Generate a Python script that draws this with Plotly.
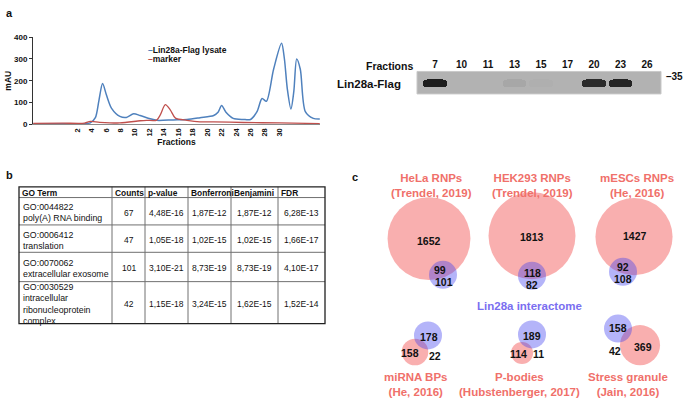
import math
import plotly.graph_objects as go

W, H = 685, 401
FONT = "Arial, Liberation Sans, sans-serif"

# ---------------- Panel a : chromatogram ----------------
series_names = ["Lin28a-Flag lysate", "marker"]
fraction_ticks = [2, 4, 6, 8, 10, 12, 14, 16, 18, 20, 22, 24, 26, 28, 30]

lysate_fraction = [-4.1, 0, 3.0, 3.8, 4.5, 5.0, 5.5, 6.05, 6.75, 7.9, 8.8, 9.8, 10.7, 12.1, 13.0,
                   15.3, 17.2, 19.0, 20.9, 21.5, 22.0, 22.6, 23.6, 25.0, 26.0, 26.9, 27.6, 28.2,
                   29.2, 30.3, 30.7, 31.1, 31.6, 32.0, 32.4, 32.9, 33.6, 34.7, 35.6]
lysate_mau = [2, 2, 2, 6, 30, 110, 187, 133, 73, 36, 31, 48, 40, 25, 18,
              20, 22, 30, 40, 55, 86, 55, 27, 22, 22, 58, 118, 106,
              253, 372, 300, 163, 70, 150, 300, 253, 58, 27, 24]

marker_fraction = [-4.1, 0, 3.0, 3.8, 5.1, 7.9, 10.7, 11.6, 13.0, 13.5, 14.2, 14.9, 15.6, 17.2,
                   19.0, 20.9, 25.0, 30.0, 35.6]
marker_mau = [4, 5, 5, 13, 9, 6, 16, 18, 19, 43, 90, 65, 28, 18,
              11, 11, 8, 6, 3]

series_colors = ["#4F81BD", "#C0504D"]

# ---------------- Western blot ----------------
blot_lanes = ["7", "10", "11", "13", "15", "17", "20", "23", "26"]
band_intensity = [1.0, 0.0, 0.0, 0.07, 0.015, 0.0, 0.9, 0.95, 0.0]
blot_row_label = "Lin28a-Flag"
blot_axis_label = "Fractions"
blot_size_marker = "35"

# ---------------- Panel b : GO table ----------------
table_header = ["GO Term", "Counts", "p-value", "Bonferroni", "Benjamini", "FDR"]
go_terms = ["GO:0044822<br>poly(A) RNA binding",
            "GO:0006412<br>translation",
            "GO:0070062<br>extracellular exosome",
            "GO:0030529<br>intracellular<br>ribonucleoprotein<br>complex"]
go_counts = ["67", "47", "101", "42"]
go_pvalue = ["4,48E-16", "1,05E-18", "3,10E-21", "1,15E-18"]
go_bonferroni = ["1,87E-12", "1,02E-15", "8,73E-19", "3,24E-15"]
go_benjamini = ["1,87E-12", "1,02E-15", "8,73E-19", "1,62E-15"]
go_fdr = ["6,28E-13", "1,66E-17", "4,10E-17", "1,52E-14"]

# ---------------- Panel c : Venn diagrams ----------------
venn_titles = ["HeLa RNPs<br>(Trendel, 2019)", "HEK293 RNPs<br>(Trendel, 2019)",
               "mESCs RNPs<br>(He, 2016)", "miRNA BPs<br>(He, 2016)",
               "P-bodies<br>(Hubstenberger, 2017)", "Stress granule<br>(Jain, 2016)"]
venn_only_set = [1652, 1813, 1427, 158, 114, 369]
venn_overlap = [99, 118, 92, 22, 11, 42]
venn_only_lin28 = [101, 82, 108, 178, 189, 158]
interactome_label = "Lin28a interactome"

# layout geometry for the venn groups (pixel positions)
venn_geom = [
    dict(set_c=(429, 240), lin_c=(443, 277), t_set=(429, 241), t_ov=(440, 271), t_lin=(444, 283), title=(431, 184)),
    dict(set_c=(532, 237), lin_c=(532, 278), t_set=(532, 237), t_ov=(532, 274), t_lin=(532, 286), title=(532, 184)),
    dict(set_c=(634, 238), lin_c=(623, 274), t_set=(635, 236), t_ov=(623, 268), t_lin=(623, 280), title=(637, 184)),
    dict(set_c=(415, 356), lin_c=(428, 339), t_set=(410, 356), t_ov=(435, 359), t_lin=(429, 339), title=(415, 388)),
    dict(set_c=(522, 357), lin_c=(532, 338), t_set=(518, 357), t_ov=(538, 357), t_lin=(532, 338), title=(519, 388)),
    dict(set_c=(640, 349), lin_c=(618, 332), t_set=(643, 349), t_ov=(615, 353), t_lin=(618, 330), title=(628, 388)),
]
RADIUS_K = 0.99  # px per sqrt(count)

fig = go.Figure()

# chromatogram traces
for name, xs, ys, col, w in [(series_names[0], lysate_fraction, lysate_mau, series_colors[0], 1.5),
                             (series_names[1], marker_fraction, marker_mau, series_colors[1], 1.3)]:
    fig.add_trace(go.Scatter(x=xs, y=ys, mode="lines", name=name,
                             line=dict(color=col, width=w, shape="spline", smoothing=0.8),
                             showlegend=False, xaxis="x", yaxis="y"))

# blot bands
fig.add_trace(go.Bar(x=list(range(len(blot_lanes))), y=[0.35] * len(blot_lanes), base=0.30,
                     width=0.9, marker=dict(color="#1c1c1c", opacity=band_intensity, line=dict(width=0),
                                            cornerradius=4),
                     showlegend=False, xaxis="x2", yaxis="y2"))

# venn circles
pink = "rgba(240,40,40,0.53)"
blue = "rgba(60,60,240,0.55)"
set_x, set_y, set_s, lin_x, lin_y, lin_s = [], [], [], [], [], []
for i, g in enumerate(venn_geom):
    set_total = venn_only_set[i] + venn_overlap[i]
    lin_total = venn_only_lin28[i] + venn_overlap[i]
    set_x.append(g["set_c"][0]); set_y.append(g["set_c"][1])
    set_s.append(2 * RADIUS_K * math.sqrt(set_total))
    lin_x.append(g["lin_c"][0]); lin_y.append(g["lin_c"][1])
    lin_s.append(2 * RADIUS_K * math.sqrt(lin_total))
fig.add_trace(go.Scatter(x=set_x, y=set_y, mode="markers", showlegend=False,
                         marker=dict(size=set_s, color=pink, line=dict(width=0)),
                         xaxis="x3", yaxis="y3"))
fig.add_trace(go.Scatter(x=lin_x, y=lin_y, mode="markers", showlegend=False,
                         marker=dict(size=lin_s, color=blue, line=dict(width=0)),
                         xaxis="x3", yaxis="y3"))

ann = []
TEXT_DY = 1.5
def A(x, y, text, size, bold=False, color="#111", xanchor="center", yanchor="middle", **kw):
    d = dict(x=x, y=y + TEXT_DY, xref="x3", yref="y3", text=text, showarrow=False,
             font=dict(family=FONT, size=size, color=color, weight="bold" if bold else "normal"),
             xanchor=xanchor, yanchor=yanchor)
    d.update(kw)
    ann.append(d)

# panel letters
A(4, 8, "a", 11, True, xanchor="left")
A(4, 173, "b", 11, True, xanchor="left")
A(350, 175, "c", 11, True, xanchor="left")

# chromatogram legend
for k, (nm, col) in enumerate(zip(series_names, series_colors)):
    A(146, 46 + 9 * k, f"<span style='color:{col}'>–</span>{nm}", 8.5, True, xanchor="left")

# blot labels
A(415, 62, blot_axis_label, 10.5, True, xanchor="right")
A(403, 80, blot_row_label, 11.5, True, xanchor="right")
A(664, 73, "–" + blot_size_marker, 10, True, xanchor="left")

# table
col_w = [93, 33, 43, 43, 47, 47]
row_h = [11, 28, 28, 30, 43]
t_left, t_top = 19, 187
xe = [t_left]
for w in col_w:
    xe.append(xe[-1] + w)
ye = [t_top]
for h in row_h:
    ye.append(ye[-1] + h)
shapes = []
for xv in xe[1:-1]:
    shapes.append(dict(type="line", xref="x3", yref="y3", x0=xv, x1=xv, y0=ye[0], y1=ye[-1],
                       line=dict(color="#707070", width=1)))
for yv in ye[1:-1]:
    shapes.append(dict(type="line", xref="x3", yref="y3", x0=xe[0], x1=xe[-1], y0=yv, y1=yv,
                       line=dict(color="#707070", width=1)))
shapes.append(dict(type="rect", xref="x3", yref="y3", x0=xe[0], x1=xe[-1], y0=ye[0], y1=ye[-1],
                   line=dict(color="#202020", width=1.3)))
for j, h in enumerate(table_header):
    A(xe[j] + 1.0, (ye[0] + ye[1]) / 2 - 0.5, h, 8.4, True, xanchor="left")
body_cols = [go_terms, go_counts, go_pvalue, go_bonferroni, go_benjamini, go_fdr]
for r in range(len(go_terms)):
    yc = (ye[r + 1] + ye[r + 2]) / 2
    for j, col in enumerate(body_cols):
        if j == 0:
            A(xe[0] + 1.5, yc, col[r], 8.8, xanchor="left", align="left")
        else:
            A((xe[j] + xe[j + 1]) / 2, yc, col[r], 8.5)

# venn labels
title_col = "#F0706A"
for i, g in enumerate(venn_geom):
    A(*g["t_set"], str(venn_only_set[i]), 10.5, True)
    A(*g["t_ov"], str(venn_overlap[i]), 10.5, True)
    A(*g["t_lin"], str(venn_only_lin28[i]), 10.5, True)
    A(*g["title"], venn_titles[i], 11.5, True, color=title_col)
A(529, 307, interactome_label, 11.5, True, color="#7A6EF0")

# blot background
shapes.insert(0, dict(type="rect", xref="x2 domain", yref="y2 domain", x0=0, x1=1, y0=0, y1=1,
                      fillcolor="#b2b2b2", line=dict(color="#c8c8c8", width=1), layer="below"))

tickfont_bold = dict(family=FONT, size=8, color="#111", weight="bold")
fig.update_layout(
    width=W, height=H, margin=dict(l=0, r=0, t=0, b=0),
    paper_bgcolor="white", plot_bgcolor="rgba(0,0,0,0)",
    font=dict(family=FONT, color="#111"),
    xaxis=dict(domain=[33 / W, 320 / W], range=[-4.14, 35.63], tickvals=fraction_ticks,
               tickangle=-90, tickfont=dict(family=FONT, size=7.5, color="#111", weight="bold"),
               showline=True, linecolor="#8a8a8a", linewidth=1, ticks="", showgrid=False, zeroline=False,
               title=dict(text="Fractions", font=dict(family=FONT, size=8.5, color="#111", weight="bold"),
                          standoff=2)),
    yaxis=dict(domain=[1 - 123 / H, 1 - 34 / H], range=[0, 400], dtick=100,
               tickfont=tickfont_bold, showline=True, linecolor="#333", linewidth=1,
               ticks="outside", ticklen=3, tickcolor="#333", showgrid=False, zeroline=False,
               title=dict(text="mAU", font=dict(family=FONT, size=8.5, color="#111", weight="bold"),
                          standoff=1)),
    xaxis2=dict(domain=[417 / W, 661 / W], range=[-0.68, 8.53], tickvals=list(range(len(blot_lanes))),
                ticktext=blot_lanes, side="top", ticks="", showline=False, showgrid=False, zeroline=False,
                tickfont=dict(family=FONT, size=10, color="#111", weight="bold"), anchor="y2"),
    yaxis2=dict(domain=[1 - 92 / H, 1 - 69 / H], range=[0, 1], visible=False, anchor="x2"),
    xaxis3=dict(domain=[0, 1], range=[0, W], visible=False, anchor="y3"),
    yaxis3=dict(domain=[0, 1], range=[H, 0], visible=False, anchor="x3"),
    annotations=ann, shapes=shapes, bargap=0,
)

fig.write_html("out.html", config={"displayModeBar": False},
               post_script="document.body.style.margin='0px';")
